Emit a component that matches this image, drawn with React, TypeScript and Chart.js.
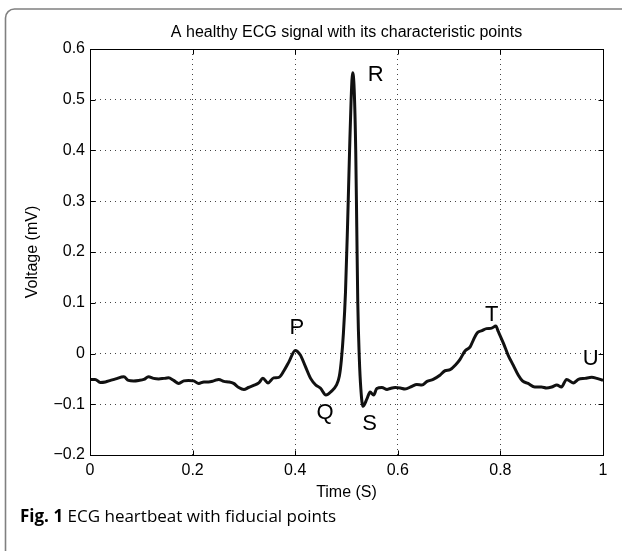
import React, { useEffect, useRef } from "react";
import { Chart, registerables } from "chart.js";

Chart.register(...registerables);

// Time (s) and voltage (mV) samples
const time = [
  0.0, 0.01, 0.02, 0.03, 0.04, 0.05, 0.066, 0.075, 0.085, 0.095, 0.105, 0.114, 0.124, 0.134, 0.144,
  0.153, 0.163, 0.173, 0.183, 0.192, 0.202, 0.212, 0.222, 0.231, 0.241, 0.251, 0.261, 0.27, 0.28,
  0.29, 0.3, 0.309, 0.319, 0.329, 0.337, 0.347, 0.358, 0.368, 0.378, 0.388, 0.4, 0.41, 0.42, 0.43,
  0.44, 0.449, 0.46, 0.47, 0.48, 0.486, 0.49, 0.494, 0.498, 0.502, 0.506, 0.509, 0.512, 0.515, 0.518,
  0.52, 0.522, 0.525, 0.528, 0.532, 0.54, 0.546, 0.553, 0.559, 0.569, 0.579, 0.585, 0.595, 0.605,
  0.614, 0.627, 0.637, 0.647, 0.657, 0.669, 0.682, 0.692, 0.702, 0.712, 0.721, 0.731, 0.741, 0.747,
  0.755, 0.764, 0.773, 0.783, 0.791, 0.796, 0.806, 0.815, 0.825, 0.835, 0.843, 0.854, 0.867, 0.88,
  0.89, 0.9, 0.91, 0.919, 0.929, 0.942, 0.952, 0.965, 0.978, 0.988, 1.0,
];
const voltage = [
  -0.051, -0.051, -0.057, -0.056, -0.053, -0.05, -0.046, -0.053, -0.054, -0.053, -0.051, -0.046,
  -0.049, -0.05, -0.049, -0.048, -0.053, -0.059, -0.054, -0.053, -0.054, -0.059, -0.056, -0.056,
  -0.054, -0.051, -0.055, -0.056, -0.059, -0.067, -0.071, -0.067, -0.063, -0.058, -0.049, -0.058,
  -0.048, -0.047, -0.034, -0.016, 0.006, -0.003, -0.026, -0.049, -0.062, -0.068, -0.082, -0.075,
  -0.063, -0.045, -0.013, 0.04, 0.12, 0.25, 0.4, 0.5, 0.553, 0.52, 0.4, 0.25, 0.1, -0.01, -0.07,
  -0.104, -0.089, -0.076, -0.082, -0.069, -0.067, -0.071, -0.069, -0.067, -0.068, -0.07, -0.065,
  -0.061, -0.062, -0.055, -0.051, -0.043, -0.034, -0.032, -0.023, -0.012, 0.005, 0.013, 0.026,
  0.041, 0.045, 0.049, 0.05, 0.054, 0.043, 0.02, -0.003, -0.023, -0.043, -0.054, -0.059, -0.066,
  -0.066, -0.068, -0.066, -0.062, -0.066, -0.051, -0.058, -0.051, -0.049, -0.047, -0.049, -0.053,
];

// Fiducial point labels and their positions (data units)
const pointLabels = ["P", "Q", "R", "S", "T", "U"];
const pointTime = [0.403, 0.458, 0.557, 0.545, 0.783, 0.976];
const pointVolt = [0.051, -0.118, 0.548, -0.139, 0.0755, -0.01];

const xTicks = [0, 0.2, 0.4, 0.6, 0.8, 1];
const yTicks = [-0.2, -0.1, 0, 0.1, 0.2, 0.3, 0.4, 0.5, 0.6];

const titleText = "A healthy ECG signal with its characteristic points";
const xTitle = "Time (S)";
const yTitle = "Voltage (mV)";
const captionBold = "Fig. 1";
const captionText = " ECG heartbeat with fiducial points";

const FONT = '"Liberation Sans", Arial, Helvetica, sans-serif';

const fmt = (v: number) => {
  const r = Math.round(v * 10) / 10;
  const s = Math.abs(r).toString();
  return r < 0 ? "\u2212" + s : s;
};

const decor = {
  id: "decor",
  afterDraw(chart: any) {
    const { ctx, chartArea: a, scales } = chart;
    const x = scales.x;
    const y = scales.y;
    ctx.save();
    // plot box
    const L = Math.round(a.left) + 0.5;
    const T = Math.round(a.top) + 0.5;
    const R = Math.round(a.right) + 0.5;
    const B = Math.round(a.bottom) + 0.5;
    ctx.strokeStyle = "#000";
    ctx.lineWidth = 1;
    ctx.setLineDash([]);
    ctx.strokeRect(L, T, R - L, B - T);
    // inward ticks
    ctx.beginPath();
    xTicks.forEach((v) => {
      const px = Math.round(x.getPixelForValue(v)) + 0.5;
      ctx.moveTo(px, B);
      ctx.lineTo(px, B - 5);
      ctx.moveTo(px, T);
      ctx.lineTo(px, T + 5);
    });
    yTicks.forEach((v) => {
      const py = Math.round(y.getPixelForValue(v)) + 0.5;
      ctx.moveTo(L, py);
      ctx.lineTo(L + 5, py);
      ctx.moveTo(R, py);
      ctx.lineTo(R - 5, py);
    });
    ctx.stroke();

    // fiducial labels
    ctx.fillStyle = "#000";
    ctx.font = `22px ${FONT}`;
    ctx.textAlign = "center";
    ctx.textBaseline = "middle";
    pointLabels.forEach((lab, i) => {
      ctx.fillText(lab, x.getPixelForValue(pointTime[i]), y.getPixelForValue(pointVolt[i]));
    });

    // title and axis titles
    const cx = (a.left + a.right) / 2;
    ctx.font = `16px ${FONT}`;
    ctx.fillText(titleText, cx, 33);
    ctx.fillText(xTitle, cx, 493);
    ctx.save();
    ctx.translate(33, (a.top + a.bottom) / 2);
    ctx.rotate(-Math.PI / 2);
    ctx.fillText(yTitle, 0, 0);
    ctx.restore();

    // caption
    ctx.textAlign = "left";
    ctx.textBaseline = "alphabetic";
    ctx.font = `bold 17px "Open Sans", "Noto Sans", sans-serif`;
    ctx.fillText(captionBold, 20, 522);
    const w = ctx.measureText(captionBold).width;
    ctx.font = `17px "Open Sans", "Noto Sans", sans-serif`;
    ctx.fillText(captionText, 20 + w, 522);

    // outer frame
    ctx.strokeStyle = "#808080";
    ctx.lineWidth = 1.6;
    const fx = 5.5;
    const fy = 9;
    const r = 9;
    ctx.beginPath();
    ctx.moveTo(700, fy);
    ctx.lineTo(fx + r, fy);
    ctx.arcTo(fx, fy, fx, fy + r, r);
    ctx.lineTo(fx, 700);
    ctx.stroke();
    ctx.restore();
  },
};

export default function App() {
  const ref = useRef<HTMLCanvasElement | null>(null);
  useEffect(() => {
    if (!ref.current) return;
    const chart = new Chart(ref.current, {
      type: "line",
      data: {
        datasets: [
          {
            data: time.map((t, i) => ({ x: t, y: voltage[i] })),
            borderColor: "#111",
            borderWidth: 3,
            pointRadius: 0,
            fill: false,
            cubicInterpolationMode: "monotone",
          },
        ],
      },
      options: {
        animation: false,
        responsive: true,
        maintainAspectRatio: false,
        layout: { padding: { left: 0, right: 19, top: 49, bottom: 36 } },
        plugins: { legend: { display: false }, tooltip: { enabled: false }, title: { display: false } },
        scales: {
          x: {
            type: "linear",
            min: 0,
            max: 1,
            afterFit: (s: any) => {
              s.height = 60;
            },
            afterBuildTicks: (s: any) => {
              s.ticks = xTicks.map((v) => ({ value: v }));
            },
            ticks: {
              callback: (v: any) => fmt(Number(v)),
              font: { family: FONT, size: 16 },
              color: "#000",
              padding: 6,
              maxRotation: 0,
            },
            grid: { drawTicks: false, color: "#444", lineWidth: 1 },
            border: { display: false, dash: [1, 4] },
          },
          y: {
            type: "linear",
            min: -0.2,
            max: 0.6,
            afterFit: (s: any) => {
              s.width = 90;
            },
            afterBuildTicks: (s: any) => {
              s.ticks = yTicks.map((v) => ({ value: v }));
            },
            ticks: {
              callback: (v: any) => fmt(Number(v)),
              font: { family: FONT, size: 16 },
              color: "#000",
              padding: 5,
            },
            grid: { drawTicks: false, color: "#444", lineWidth: 1 },
            border: { display: false, dash: [1, 4] },
          },
        },
      },
      plugins: [decor],
    });
    return () => chart.destroy();
  }, []);
  return (
    <div style={{ position: "fixed", left: 0, top: 0, width: 622, height: 551, background: "#fff" }}>
      <canvas ref={ref} />
    </div>
  );
}
